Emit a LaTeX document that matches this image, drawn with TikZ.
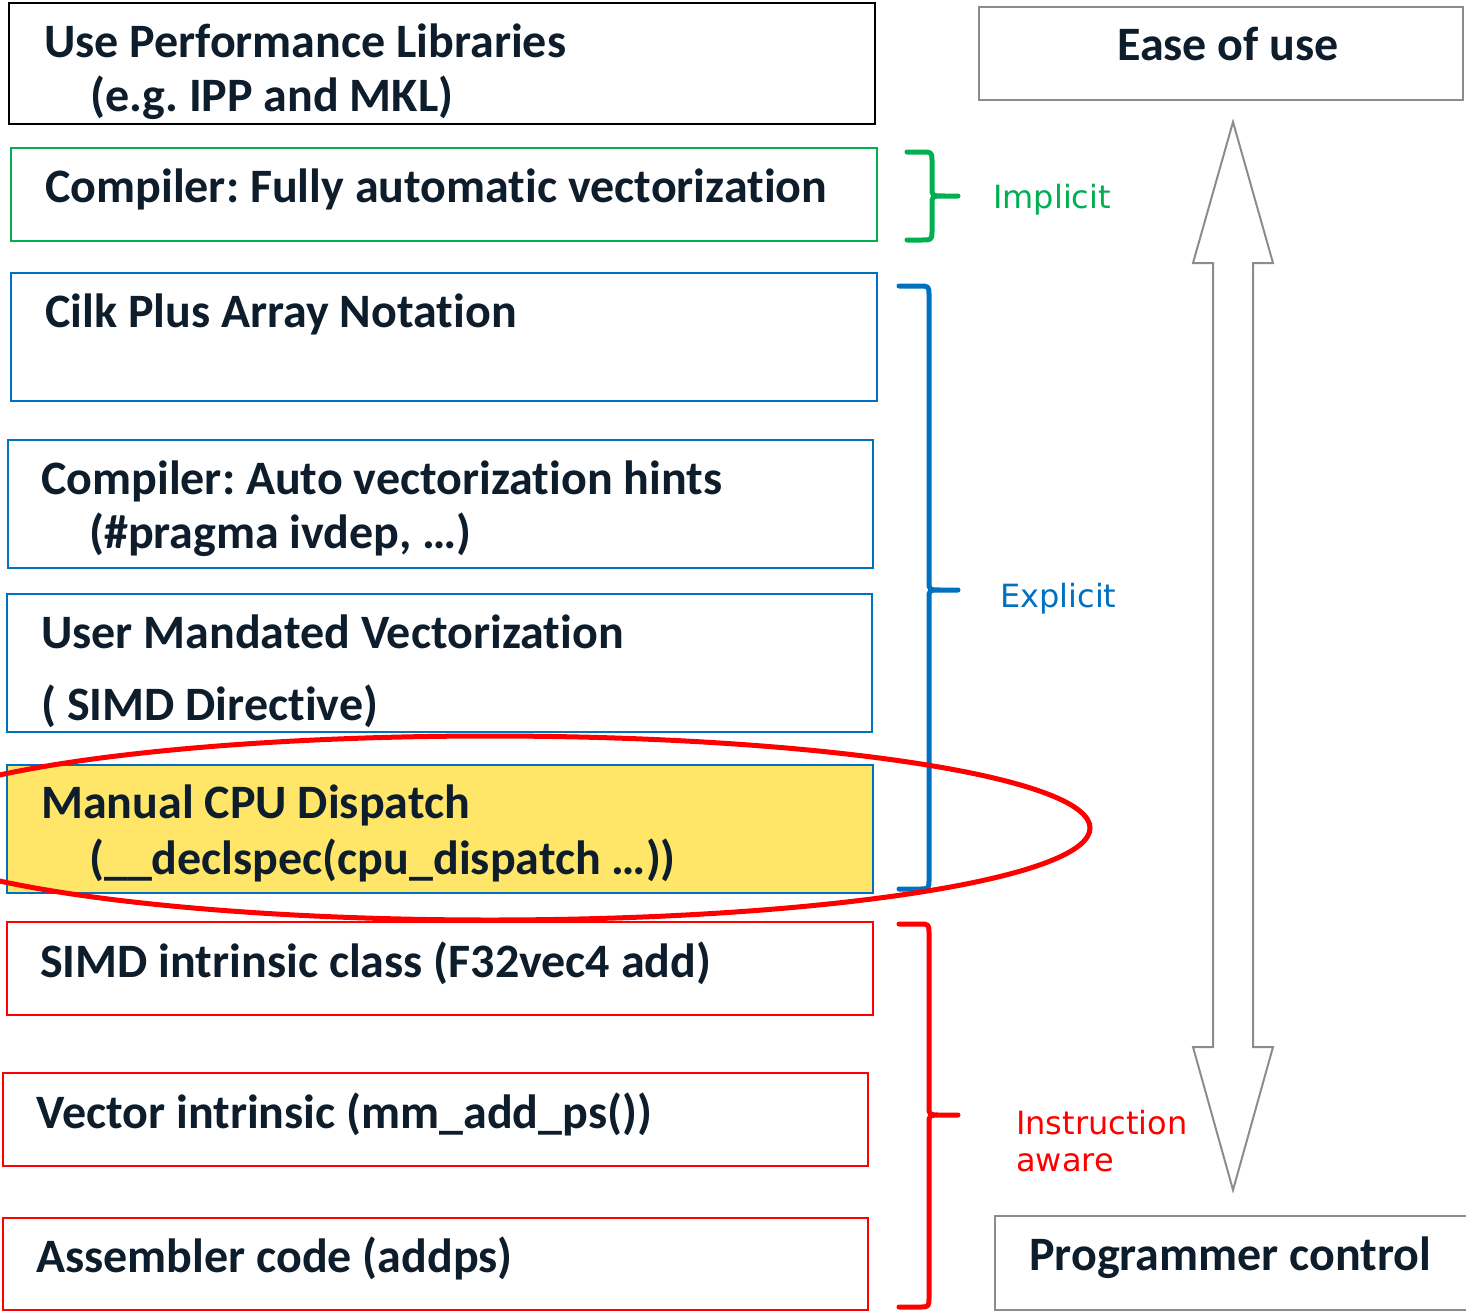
\documentclass[tikz,border=0pt]{standalone}
\usepackage{fontspec}
\setmainfont{Carlito}[Ligatures={NoCommon}]
\newfontfamily\lblfont{DejaVu Sans}
\usetikzlibrary{fit}
\definecolor{txt}{HTML}{0D1D2B}
\definecolor{grn}{HTML}{00B050}
\definecolor{blu}{HTML}{0070C0}
\definecolor{rd}{HTML}{FF0000}
\definecolor{yel}{HTML}{FFE669}
\definecolor{gry}{HTML}{8C8C8C}
\tikzset{
  box/.style={draw, line width=2pt, inner sep=0pt},
  lbl/.style={anchor=base west, inner sep=0pt, text=txt, font=\fontsize{48}{56}\selectfont\bfseries},
  side/.style={anchor=base west, inner sep=0pt, font=\lblfont\fontsize{32}{37}\selectfont},
  brace/.style={line width=5pt, line cap=round, line join=round},
}
\frenchspacing
\begin{document}
\begin{tikzpicture}[x=1pt, y=-1pt]
\useasboundingbox (0,0) rectangle (1466,1311);
% boxes
\node[box, draw=black, fit={(9,3) (875,124)}] (b1) {};
\node[box, draw=grn, fit={(11,148) (877,241)}] (b2) {};
\node[box, draw=blu, fit={(11,273) (877,401)}] (b3) {};
\node[box, draw=blu, fit={(8,440) (873,568)}] (b4) {};
\node[box, draw=blu, fit={(7,594) (872,732)}] (b5) {};
\node[box, draw=blu, fill=yel, fit={(7,765) (873,893)}] (b6) {};
\node[box, draw=rd, fit={(7,922) (873,1015)}] (b7) {};
\node[box, draw=rd, fit={(3,1073) (868,1166)}] (b8) {};
\node[box, draw=rd, fit={(3,1218) (868,1310)}] (b9) {};
\node[box, draw=gry, fit={(979,7) (1463,100)}] (ease) {};
\node[box, draw=gry, fit={(995,1216) (1470,1310)}] (prog) {};
% texts
\node[lbl] (t1a) at (44,58) {Use Performance Libraries};
\node[lbl] (t1b) at (90,112) {(e.g. IPP and MKL)};
\node[lbl] (t2) at (45,202) {Compiler: Fully automatic vectorization};
\node[lbl] (t3) at (45,327) {Cilk Plus Array Notation};
\node[lbl] (t4a) at (41,494) {Compiler: Auto vectorization hints};
\node[lbl] (t4b) at (89,548) {(\#pragma ivdep, …)};
\node[lbl] (t5a) at (41,648) {User Mandated Vectorization};
\node[lbl] (t5b) at (41,720) {( SIMD Directive)};
\node[lbl] (t6a) at (41,818) {Manual CPU Dispatch};
\node[lbl] (t6b) at (89,874) {(\_\_declspec(cpu\_dispatch …))};
\node[lbl] (t7) at (40,977) {SIMD intrinsic class (F32vec4 add)};
\node[lbl] (t8) at (36,1128) {Vector intrinsic (mm\_add\_ps())};
\node[lbl] (t9) at (36,1272) {Assembler code (addps)};
\node[lbl, anchor=base] (te) at (1228,61) {Ease of use};
\node[lbl] (tp) at (1029,1270) {Programmer control};
% side labels
\node[side, text=grn] (limp) at (993,208) {Implicit};
\node[side, text=blu] (lexp) at (1000,607) {Explicit};
\node[side, text=rd, align=left, anchor=north west] (lins) at (1016,1110) {Instruction\\aware};
% braces
\draw[brace, grn] (907,152) -- (922,152) .. controls (932,152) .. (932,162) -- (932,188)
  .. controls (932,196) .. (945,196) -- (958,196) -- (945,196)
  .. controls (932,196) .. (932,204) -- (932,230) .. controls (932,240) .. (922,240) -- (907,240);
\draw[brace, blu] (899,286) -- (919,286) .. controls (929,286) .. (929,296) -- (929,582)
  .. controls (929,590) .. (942,590) -- (958,590) -- (942,590)
  .. controls (929,590) .. (929,598) -- (929,879) .. controls (929,889) .. (919,889) -- (899,889);
\draw[brace, rd] (899,924) -- (919,924) .. controls (929,924) .. (929,934) -- (929,1107)
  .. controls (929,1115) .. (942,1115) -- (958,1115) -- (942,1115)
  .. controls (929,1115) .. (929,1123) -- (929,1297) .. controls (929,1307) .. (919,1307) -- (899,1307);
% double arrow
\draw[gry, line width=2pt, line join=miter] (1233,122) -- (1273,263) -- (1253,263) -- (1253,1047)
  -- (1273,1047) -- (1233,1190) -- (1193,1047) -- (1213,1047) -- (1213,263) -- (1193,263) -- cycle;
% ellipse
\draw[rd, line width=5pt] (490,828) ellipse [x radius=600, y radius=92];
\end{tikzpicture}
\end{document}
